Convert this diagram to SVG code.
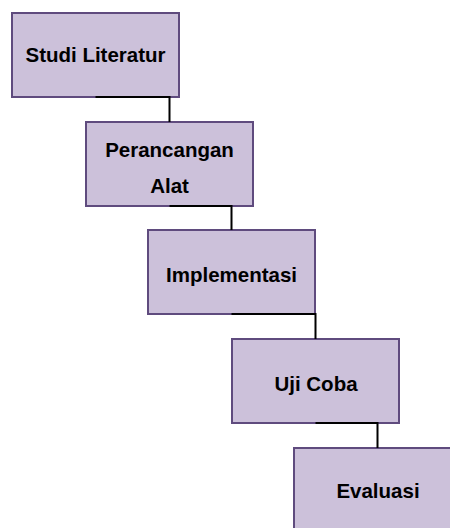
<svg xmlns="http://www.w3.org/2000/svg" width="450" height="528" viewBox="0 0 450 528">
<style>
.box{fill:#CCC1DA;stroke:#5F4B7E;stroke-width:2}
.lbl{font-family:"Liberation Sans",Arial,sans-serif;font-weight:bold;font-size:20.5px;fill:#000;text-anchor:middle}
.conn{fill:none;stroke:#000;stroke-width:2}
</style>
<rect width="450" height="528" fill="#fff"/>
<g id="studi-literatur">
<rect class="box" x="12" y="13" width="167" height="84"/>
<text class="lbl" x="95.5" y="62">Studi Literatur</text>
</g>
<g id="perancangan-alat">
<rect class="box" x="86" y="122" width="167" height="84"/>
<text class="lbl" x="169.5" y="157">Perancangan</text>
<text class="lbl" x="169.5" y="193">Alat</text>
</g>
<g id="implementasi">
<rect class="box" x="148" y="230" width="167" height="84"/>
<text class="lbl" x="231.5" y="282">Implementasi</text>
</g>
<g id="uji-coba">
<rect class="box" x="232" y="339" width="167" height="84"/>
<text class="lbl" x="316" y="391">Uji Coba</text>
</g>
<g id="evaluasi">
<rect class="box" x="294" y="448" width="167" height="84"/>
<text class="lbl" x="378" y="498">Evaluasi</text>
</g>
<g id="connectors">
<path class="conn" d="M95.5 97H169.5V122"/>
<path class="conn" d="M169.5 206H231.5V230"/>
<path class="conn" d="M231.5 314H315.5V339"/>
<path class="conn" d="M315.5 423H377.5V448"/>
</g>
</svg>
